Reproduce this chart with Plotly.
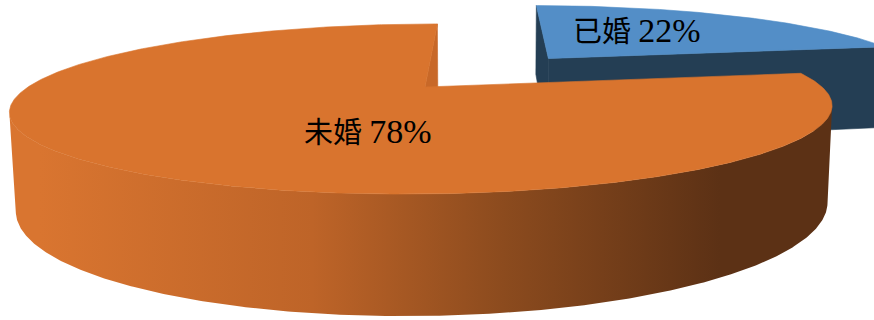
import numpy as np
import plotly.graph_objects as go

# ---- data ----
labels = ["已婚", "未婚"]
values = [22, 78]
top_colors = ["#538EC7", "#D9742E"]
cut_colors = ["#243E54", "#C86828"]
wall_scales = [
    [[0, "#243E54"], [1, "#243E54"]],
    [[0, "rgb(217,117,48)"], [0.4, "rgb(190,100,40)"], [0.68, "rgb(140,75,30)"], [1, "rgb(92,49,21)"]],
]
explode = [0.513, 0.0]

# ---- view / style constants ----
W, H = 874, 320
F = 1504.0          # focal length (px)
S = 0.2             # sin(elevation)
C = np.sqrt(1 - S * S)
D = 3.788           # camera distance (radius units)
PX, PY = 485.0, 87.0  # principal point (px)
XOFF = -0.151       # pie centre offset from camera axis
HT = 0.24           # pie thickness (radius units)
GRAD_START, GRAD_STOP = 40, 720
CAM = np.array([0.0, -D * C, D * S])
LABEL_XY = [(637, 30), (368, 131)]
FONT = dict(family="Liberation Serif, 'Noto Sans CJK SC', serif", size=29, color="black")
NUM_SIZE = 34


def proj(X, Y, Z):
    X = np.asarray(X, float); Y = np.asarray(Y, float); Z = np.asarray(Z, float)
    up = Y * S + Z * C
    depth = D + Y * C - Z * S
    return PX + F * X / depth, PY - F * up / depth


fig = go.Figure()


def poly(xs, ys, color=None, grad=None):
    xs = list(xs) + [xs[0]]
    ys = list(ys) + [ys[0]]
    kw = dict(x=xs, y=ys, mode="lines", fill="toself", hoverinfo="skip", showlegend=False)
    if grad is not None:
        kw["line"] = dict(width=0, color="rgba(0,0,0,0)")
        kw["fillcolor"] = grad[0][1]
        kw["fillgradient"] = dict(type="horizontal", colorscale=grad, start=GRAD_START, stop=GRAD_STOP)
    else:
        kw["line"] = dict(width=0.6, color=color)
        kw["fillcolor"] = color
    fig.add_trace(go.Scatter(**kw))


total = float(sum(values))
cum = 0.0
for i, v in enumerate(values):
    a0 = 90 - cum / total * 360
    a1 = 90 - (cum + v) / total * 360
    cum += v
    mid = np.radians((a0 + a1) / 2)
    cx = XOFF + explode[i] * np.cos(mid)
    cy = explode[i] * np.sin(mid)
    th = np.radians(np.linspace(a0, a1, 721))
    rx, ry = cx + np.cos(th), cy + np.sin(th)

    # cut faces
    for phi, sgn in ((np.radians(a0), 1), (np.radians(a1), -1)):
        n = np.array([-np.sin(phi), np.cos(phi)]) * sgn
        if (CAM[0] - cx) * n[0] + (CAM[1] - cy) * n[1] > 0:
            X = [cx, cx + np.cos(phi), cx + np.cos(phi), cx]
            Y = [cy, cy + np.sin(phi), cy + np.sin(phi), cy]
            Z = [0, 0, -HT, -HT]
            px, py = proj(X, Y, Z)
            poly(px, py, color=cut_colors[i])

    # outer wall (visible runs)
    vis = (CAM[0] - rx) * np.cos(th) + (CAM[1] - ry) * np.sin(th) > 0
    idx = np.where(vis)[0]
    if len(idx) > 1:
        runs = np.split(idx, np.where(np.diff(idx) > 1)[0] + 1)
        for r in runs:
            if len(r) < 2:
                continue
            tx, ty = proj(rx[r], ry[r], np.zeros(len(r)))
            bx, by = proj(rx[r], ry[r], -HT * np.ones(len(r)))
            poly(list(tx) + list(bx[::-1]), list(ty) + list(by[::-1]), grad=wall_scales[i])

    # top face
    tx, ty = proj(np.r_[cx, rx], np.r_[cy, ry], np.zeros(len(rx) + 1))
    poly(tx, ty, color=top_colors[i])

for i, (lab, v) in enumerate(zip(labels, values)):
    fig.add_annotation(x=LABEL_XY[i][0], y=LABEL_XY[i][1],
                       text=f"{lab} <span style='font-size:{NUM_SIZE}px'>{v}%</span>",
                       showarrow=False, font=FONT, xanchor="center", yanchor="middle")

fig.update_layout(
    width=W, height=H, autosize=False,
    margin=dict(l=0, r=0, t=0, b=0),
    paper_bgcolor="white", plot_bgcolor="white",
    xaxis=dict(range=[0, W], visible=False, fixedrange=True),
    yaxis=dict(range=[H, 0], visible=False, fixedrange=True),
)
fig.write_html("out.html")
